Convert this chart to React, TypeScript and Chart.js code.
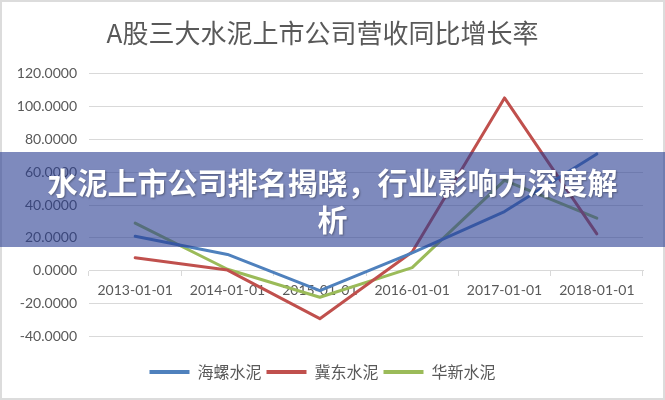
import React, { useEffect, useRef } from 'react';
import { Chart, registerables } from 'chart.js';

Chart.register(...registerables);

const titleText = 'A股三大水泥上市公司营收同比增长率';
const bannerText = '水泥上市公司排名揭晓，行业影响力深度解析';
const categories = ['2013-01-01', '2014-01-01', '2015-01-01', '2016-01-01', '2017-01-01', '2018-01-01'];
const seriesNames = ['海螺水泥', '冀东水泥', '华新水泥'];
const conchValues = [21, 10, -12, 11, 36, 71];
const jidongValues = [8, 0.5, -29, 11.5, 105, 22.5];
const huaxinValues = [29, 1, -16, 2, 55, 32];
const seriesColors = ['#4f81bd', '#c0504d', '#9bbb59'];
const yMin = -40;
const yMax = 120;
const yStep = 20;

const W = 665;
const H = 400;
const BORDER = 2;

export default function App() {
  const canvasRef = useRef<HTMLCanvasElement | null>(null);

  useEffect(() => {
    const canvas = canvasRef.current;
    if (!canvas) return;
    const values = [conchValues, jidongValues, huaxinValues];
    const chart = new Chart(canvas, {
      type: 'line',
      data: {
        labels: categories,
        datasets: seriesNames.map((name, i) => ({
          label: name,
          data: values[i],
          borderColor: seriesColors[i],
          backgroundColor: seriesColors[i],
          borderWidth: 3,
          borderJoinStyle: 'round',
          borderCapStyle: 'round',
          pointRadius: 0,
          pointHoverRadius: 0,
          tension: 0,
          fill: false,
        })),
      },
      options: {
        animation: false,
        responsive: false,
        devicePixelRatio: 1,
        layout: { padding: { left: 0, right: 20, top: 0, bottom: 8 } },
        plugins: {
          tooltip: { enabled: false },
          title: {
            display: true,
            text: titleText,
            color: '#595959',
            font: { family: '"Noto Sans CJK SC", sans-serif', size: 26, weight: '400' },
            padding: { top: 16, bottom: 24 },
          },
          legend: {
            display: true,
            position: 'bottom',
            title: { display: true, text: '', font: { size: 1 }, padding: { top: 21, bottom: 0 } },
            labels: {
              usePointStyle: true,
              pointStyle: 'line',
              pointStyleWidth: 40,
              padding: 5,
              color: '#595959',
              font: { family: '"Noto Sans CJK SC", sans-serif', size: 16 },
              generateLabels: (c: any) =>
                Chart.defaults.plugins.legend.labels
                  .generateLabels(c)
                  .map((l: any) => ({ ...l, lineWidth: 4, pointStyle: 'line' })),
            },
          },
        },
        scales: {
          x: {
            type: 'category',
            offset: true,
            position: { y: 0 } as any,
            grid: {
              offset: true,
              drawOnChartArea: false,
              drawTicks: true,
              tickLength: 5,
              color: '#d9d9d9',
              lineWidth: 1,
            },
            border: { display: true, color: '#d9d9d9', width: 1 },
            ticks: {
              color: '#595959',
              font: { family: 'Lato, sans-serif', size: 14 },
              padding: 6,
              maxRotation: 0,
              autoSkip: false,
            },
          },
          y: {
            min: yMin,
            max: yMax,
            ticks: {
              stepSize: yStep,
              color: '#595959',
              font: { family: 'Lato, sans-serif', size: 14 },
              padding: 12,
              callback: (v: any) => Number(v).toFixed(4),
            },
            grid: { color: '#d9d9d9', drawTicks: false, lineWidth: 1 },
            border: { display: false },
            afterFit: (s: any) => {
              s.width = 87;
            },
          },
        },
      } as any,
    });
    return () => chart.destroy();
  }, []);

  return (
    <div
      style={{
        position: 'absolute',
        left: 0,
        top: 0,
        width: W,
        height: H,
        background: '#ffffff',
        fontFamily: '"Noto Sans CJK SC", sans-serif',
      }}
    >
      <div
        style={{
          position: 'absolute',
          left: 0,
          top: 0,
          width: W,
          height: H,
          boxSizing: 'border-box',
          border: `${BORDER}px solid #dcdcdc`,
        }}
      >
        <canvas
          ref={canvasRef}
          width={W - 2 * BORDER}
          height={H - 2 * BORDER}
          style={{ display: 'block', width: W - 2 * BORDER, height: H - 2 * BORDER }}
        />
      </div>
      <div
        style={{
          position: 'absolute',
          left: 0,
          top: 152,
          width: W,
          height: 95,
          boxSizing: 'border-box',
          padding: '0 40px',
          background: 'rgba(40, 60, 145, 0.6)',
          display: 'flex',
          alignItems: 'center',
          justifyContent: 'center',
          textAlign: 'center',
          color: '#ffffff',
          fontSize: 30,
          fontWeight: 700,
          lineHeight: '37px',
          textShadow: '1px 1px 2px rgba(0,0,0,0.35)',
        }}
      >
        {bannerText}
      </div>
    </div>
  );
}
